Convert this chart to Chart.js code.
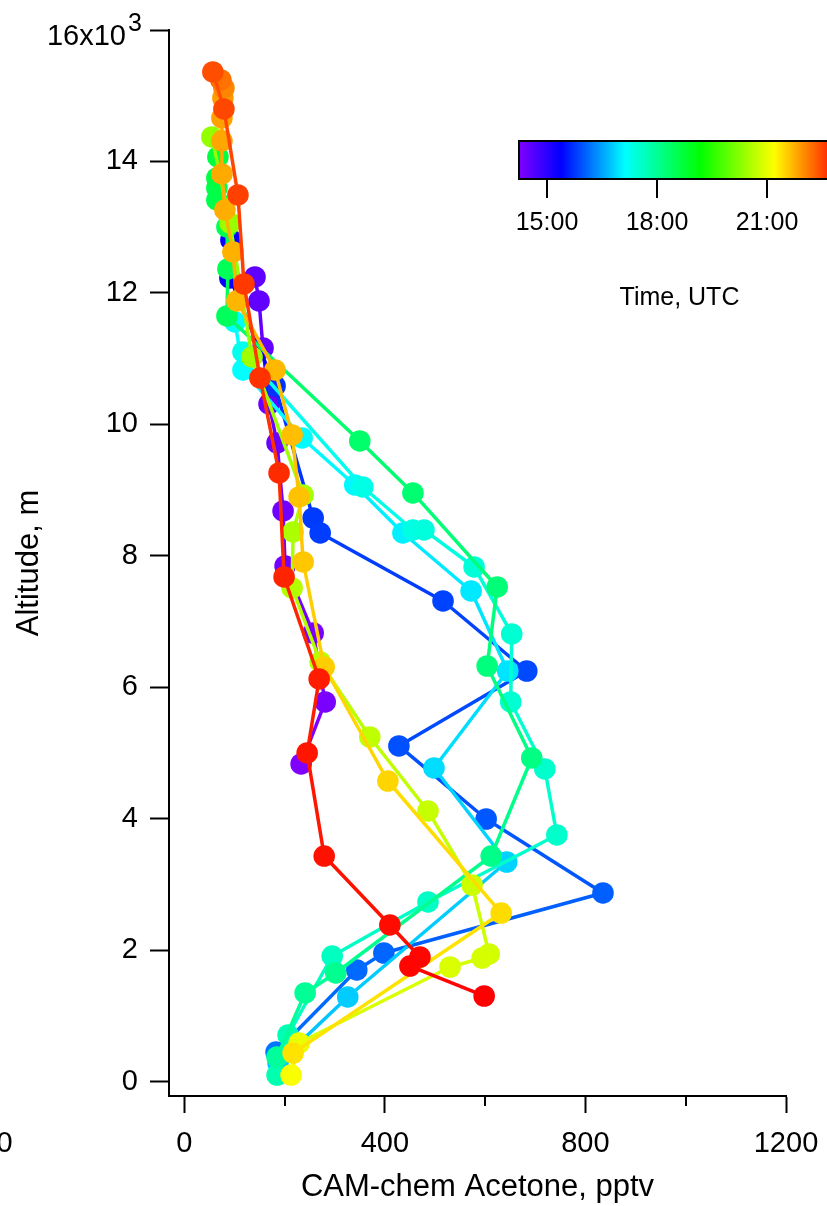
<!DOCTYPE html>
<html>
<head>
<meta charset="utf-8">
<title>CAM-chem acetone profiles</title>
<script src="https://cdn.jsdelivr.net/npm/chart.js@4.4.1/dist/chart.umd.min.js"></script>
<style>
  html, body { margin: 0; padding: 0; background: #fff; }
  canvas { display: block; }
</style>
</head>
<body>
<canvas id="perfil" width="827" height="1206"></canvas>
<script>
// acetone (pptv), altitude (m) and UTC time (decimal hours) of each profile, in flight order
const acetone1 = [233, 281, 257, 201, 197, 185, 169, 157, 149, 141];
const altitude1 = [4837, 5780, 6829, 7848, 8685, 9719, 10312, 11164, 11879, 12244];
const time1 = [14.25, 14.3, 14.33, 14.37, 14.4, 14.43, 14.46, 14.5, 14.52, 14.55];

const acetone2 = [93, 91, 181, 257, 271, 516, 683, 428, 602, 835, 398, 344, 183];
const altitude2 = [12807, 12229, 10586, 8578, 8350, 7316, 6251, 5111, 4000, 2875, 1962, 1704, 456];
const time2 = [15.3, 15.35, 15.75, 15.8, 15.82, 15.86, 15.9, 15.95, 16.0, 16.05, 16.1, 16.12, 16.2];

const acetone3 = [187, 326, 643, 498, 645, 572, 436, 340, 235, 117, 101];
const altitude3 = [289, 1293, 3346, 4776, 6251, 7468, 8350, 9080, 9795, 10830, 11560];
const time3 = [16.75, 16.8, 16.85, 16.92, 16.97, 17.0, 17.05, 17.1, 17.12, 17.15, 17.2];

const acetone4 = [117, 356, 456, 478, 578, 653, 651, 719, 743, 486, 295, 207, 185];
const altitude4 = [11103, 9050, 8396, 8396, 7833, 6814, 5780, 4761, 3757, 2738, 1916, 715, 106];
const time4 = [17.3, 17.35, 17.38, 17.42, 17.46, 17.5, 17.52, 17.55, 17.58, 17.6, 17.65, 17.75, 17.8];

const acetone5 = [185, 241, 302, 612, 693, 604, 624, 456, 350, 85, 87, 85, 65, 65, 65, 67];
const altitude5 = [380, 1354, 1658, 3437, 4928, 6327, 7529, 8959, 9750, 11651, 12366, 13005, 13415, 13598, 13750, 14069];
const time5 = [17.95, 18.0, 18.05, 18.1, 18.15, 18.2, 18.25, 18.3, 18.35, 18.45, 18.5, 18.55, 18.6, 18.62, 18.65, 18.7];

const acetone6 = [55, 91, 135, 237, 217, 215, 271, 370, 486, 574, 608, 594, 530, 229, 213];
const altitude6 = [14373, 13065, 11027, 8928, 8366, 7514, 6388, 5247, 4122, 2996, 1947, 1886, 1749, 593, 106];
const time6 = [20.35, 20.4, 20.45, 20.5, 20.55, 20.6, 20.65, 20.7, 20.75, 20.8, 20.85, 20.87, 20.9, 21.05, 21.15];

const acetone7 = [217, 632, 406, 279, 237, 229, 215, 181, 105, 97, 81, 75, 75, 75, 77, 79, 73];
const altitude7 = [441, 2570, 4578, 6312, 7909, 8898, 9841, 10830, 11879, 12624, 13263, 13811, 14313, 14662, 14967, 15119, 15240];
const time7 = [21.4, 21.45, 21.5, 21.55, 21.6, 21.63, 21.66, 21.7, 21.72, 21.75, 21.78, 21.8, 21.83, 21.86, 21.9, 22.05, 22.2];

const acetone8 = [57, 79, 107, 119, 151, 189, 199, 269, 245, 279, 410, 470, 450, 598];
const altitude8 = [15362, 14799, 13491, 12138, 10708, 9263, 7681, 6130, 5004, 3437, 2388, 1901, 1764, 1308];
const time8 = [22.45, 22.5, 22.55, 22.6, 22.65, 22.7, 22.75, 22.8, 22.85, 22.88, 22.92, 22.95, 22.97, 23.0];

const xTicks = [0, 400, 800, 1200];
const xMinorTicks = [200, 600, 1000];
const yTicks = [0, 2000, 4000, 6000, 8000, 10000, 12000, 14000, 16000];
const timeTicks = [15, 18, 21];
const timeTickLabels = ['15:00', '18:00', '21:00'];

// rainbow colour table for the time scale (hour, rgb)
const tMin = 14.25, tMax = 23.0;
const rainbowStops = [
  [14.25, [128, 0, 255]],
  [15.4, [0, 0, 255]],
  [17.15, [0, 255, 255]],
  [19.2, [0, 255, 0]],
  [21.2, [255, 255, 0]],
  [22.1, [255, 128, 0]],
  [23.0, [255, 0, 0]]
];

const fuente = '"Liberation Sans", Arial, Helvetica, sans-serif';

function colorForTime(t) {
  if (t <= rainbowStops[0][0]) return rgb(rainbowStops[0][1]);
  for (let i = 1; i < rainbowStops.length; i++) {
    const [t1, c1] = rainbowStops[i];
    const [t0, c0] = rainbowStops[i - 1];
    if (t <= t1) {
      const f = (t - t0) / (t1 - t0);
      return rgb(c0.map((v, k) => Math.round(v + (c1[k] - v) * f)));
    }
  }
  return rgb(rainbowStops[rainbowStops.length - 1][1]);
}

function rgb(c) {
  return 'rgb(' + c[0] + ',' + c[1] + ',' + c[2] + ')';
}

const perfiles = [
  [acetone1, altitude1, time1],
  [acetone2, altitude2, time2],
  [acetone3, altitude3, time3],
  [acetone4, altitude4, time4],
  [acetone5, altitude5, time5],
  [acetone6, altitude6, time6],
  [acetone7, altitude7, time7],
  [acetone8, altitude8, time8]
];

const datasets = perfiles.map(([xs, ys, ts], i) => ({
  data: xs.map((x, k) => ({ x: x, y: ys[k] })),
  showLine: true,
  borderWidth: 3.5,
  borderColor: colorForTime(ts[0]),
  segment: { borderColor: ctx => colorForTime(ts[ctx.p0DataIndex]) },
  pointRadius: 10.8,
  pointBorderWidth: 0,
  pointBackgroundColor: ts.map(colorForTime),
  pointHoverRadius: 10.8,
  // later profiles are drawn on top
  order: perfiles.length - i,
  clip: false
}));

// minor ticks, the exponent label, the clipped -400 label and the time colour bar
const extras = {
  id: 'extras',
  afterDraw(chart) {
    const ctx = chart.ctx;
    const xs = chart.scales.x;
    const ys = chart.scales.y;
    ctx.save();
    ctx.strokeStyle = '#000';
    ctx.fillStyle = '#000';
    ctx.lineWidth = 2;

    xMinorTicks.forEach(v => {
      const px = Math.round(xs.getPixelForValue(v));
      ctx.beginPath();
      ctx.moveTo(px, xs.top);
      ctx.lineTo(px, xs.top + 10);
      ctx.stroke();
    });

    const labelY = xs.top + 17 + 14 + 29 * 1.2 / 2;
    ctx.font = '29px ' + fuente;
    ctx.textAlign = 'center';
    ctx.textBaseline = 'middle';
    ctx.fillText('-400', xs.getPixelForValue(-400), labelY);

    const top = ys.getPixelForValue(16000);
    ctx.textAlign = 'right';
    ctx.fillText('16x10', 126, top + 7);
    ctx.textAlign = 'left';
    ctx.font = '25px ' + fuente;
    ctx.fillText('3', 128, top - 6);

    // colour bar
    const bar = { left: 519, right: 840, top: 141, bottom: 179 };
    const w = bar.right - bar.left;
    const grad = ctx.createLinearGradient(bar.left, 0, bar.right, 0);
    rainbowStops.forEach(([t, c]) => grad.addColorStop((t - tMin) / (tMax - tMin), rgb(c)));
    ctx.fillStyle = grad;
    ctx.fillRect(bar.left, bar.top, w, bar.bottom - bar.top);
    ctx.strokeRect(bar.left, bar.top, w, bar.bottom - bar.top);

    ctx.fillStyle = '#000';
    ctx.font = '25px ' + fuente;
    ctx.textAlign = 'center';
    ctx.textBaseline = 'middle';
    timeTicks.forEach((t, i) => {
      const px = Math.round(bar.left + (t - tMin) / (tMax - tMin) * w);
      ctx.beginPath();
      ctx.moveTo(px, bar.bottom);
      ctx.lineTo(px, bar.bottom + 19);
      ctx.stroke();
      ctx.fillText(timeTickLabels[i], px, 223);
    });
    ctx.fillText('Time, UTC', (bar.left + bar.right) / 2, 298);
    ctx.restore();
  }
};

new Chart(document.getElementById('perfil'), {
  type: 'scatter',
  data: { datasets: datasets },
  plugins: [extras],
  options: {
    responsive: false,
    animation: false,
    events: [],
    layout: { padding: { top: 30, right: 41, left: 0, bottom: 0 } },
    plugins: {
      legend: { display: false },
      tooltip: { enabled: false }
    },
    scales: {
      x: {
        type: 'linear',
        min: -30.5,
        max: 1200,
        afterBuildTicks: s => { s.ticks = xTicks.map(v => ({ value: v })); },
        afterFit: s => {
          s.height = 110;
          s.paddingLeft = 0;
          s.paddingRight = 0;
        },
        border: { display: true, color: '#000', width: 2 },
        grid: { drawOnChartArea: false, drawTicks: true, tickLength: 17, tickWidth: 2, tickColor: '#000' },
        ticks: {
          color: '#000',
          font: { family: fuente, size: 29 },
          padding: 14,
          maxRotation: 0,
          autoSkip: false,
          callback: v => String(v)
        },
        title: {
          display: true,
          text: 'CAM-chem Acetone, pptv',
          color: '#000',
          font: { family: fuente, size: 31 },
          padding: { top: 0, bottom: 0 }
        }
      },
      y: {
        type: 'linear',
        min: -213,
        max: 16000,
        afterBuildTicks: s => { s.ticks = yTicks.map(v => ({ value: v })); },
        afterFit: s => {
          s.width = 169;
          s.paddingTop = 0;
          s.paddingBottom = 0;
        },
        border: { display: true, color: '#000', width: 2 },
        grid: { drawOnChartArea: false, drawTicks: true, tickLength: 19, tickWidth: 2, tickColor: '#000' },
        ticks: {
          color: '#000',
          font: { family: fuente, size: 29 },
          padding: 12,
          autoSkip: false,
          callback: v => (v === 16000 ? '' : String(v / 1000))
        },
        title: {
          display: true,
          text: 'Altitude, m',
          color: '#000',
          font: { family: fuente, size: 31 },
          padding: { top: 11, bottom: 0 }
        }
      }
    }
  }
});
</script>
</body>
</html>
